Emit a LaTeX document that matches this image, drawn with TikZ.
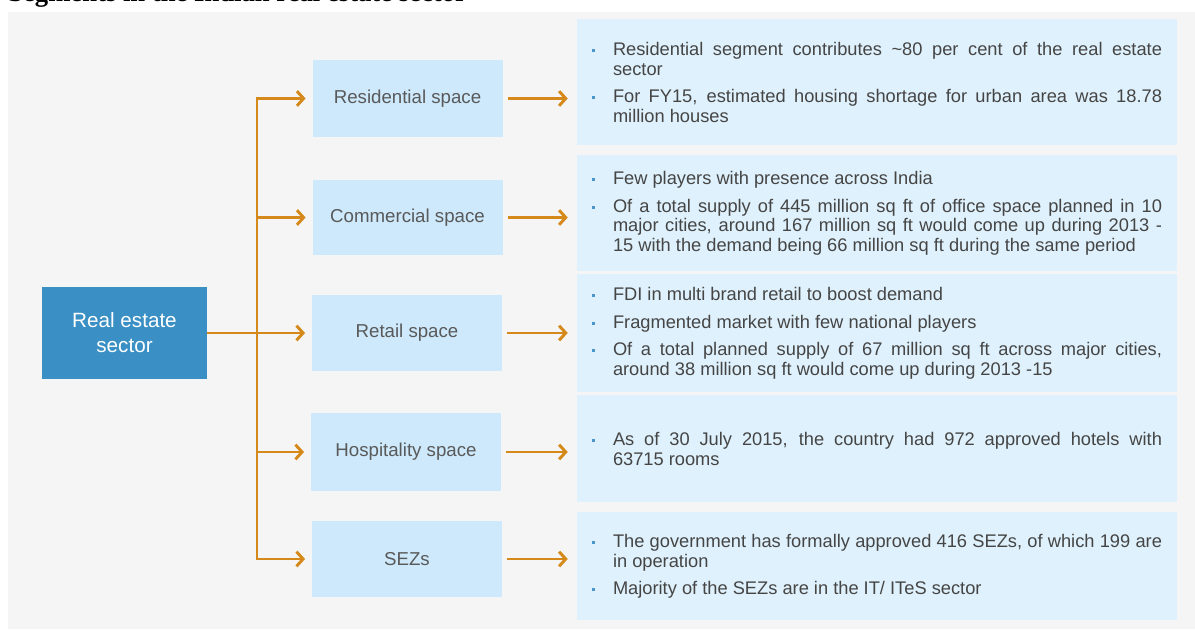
\documentclass[tikz,border=0pt]{standalone}
\usepackage{fontspec}
\setmainfont{Liberation Sans}
\newfontfamily\titlefont{Liberation Serif}
% body text of the detail boxes: spaces may stretch but never shrink
\newfontfamily\infofont[WordSpace={1,2,0}]{Liberation Sans}
\usetikzlibrary{arrows.meta}

\definecolor{panelgray}{HTML}{F5F5F5}
\definecolor{sectorblue}{HTML}{3A8FC4}
\definecolor{segblue}{HTML}{CDE9FB}
\definecolor{infoblue}{HTML}{DFF1FC}
\definecolor{flow}{HTML}{D4891A}
\definecolor{segtext}{HTML}{595959}
\definecolor{infotext}{HTML}{454545}
\definecolor{dotblue}{HTML}{4A96CC}

% paragraph settings for the detail boxes
\newcommand{\infosetup}{\parskip=6pt\hyphenpenalty=10000\exhyphenpenalty=0\tolerance=10000\emergencystretch=0pt}
% closing space that lifts the text block a little inside its box
\newcommand{\infoend}{\par\vskip 10pt\hrule height 0pt\relax}
% one bullet point with a hanging indent
\newcommand{\pointitem}[1]{\par\noindent\hangindent=15.75pt\hangafter=1%
  \makebox[15.75pt][l]{\raisebox{2.8pt}{\textcolor{dotblue}{\rule{2.2pt}{2.2pt}}}}#1\par}
% interword glue that may shrink a little
\newcommand{\tightspaces}{\spaceskip=\fontdimen2\font plus \fontdimen3\font minus 0.08em\relax}

\begin{document}
\begin{tikzpicture}[x=0.75pt,y=-0.75pt,
  sectorbox/.style={fill=sectorblue, text=white, align=center, inner sep=0pt,
    font=\fontsize{15.5}{18.75}\selectfont, minimum width=123.75pt, minimum height=69pt},
  segbox/.style={fill=segblue, text=segtext, inner sep=0pt,
    font=\fontsize{14}{16}\selectfont, minimum width=142.5pt},
  infobox/.style={fill=infoblue, text=infotext, text width=427.5pt,
    inner xsep=11.25pt, inner ysep=0pt, align=justify,
    font=\infofont\fontsize{13.7}{14.6}\selectfont,
    execute at begin node=\infosetup,
    execute at end node=\infoend},
  flowline/.style={draw=flow, line width=2.2pt},
  flowarrow/.style={flowline, -{Straight Barb[length=5pt,width=11pt]}}]

\useasboundingbox (0,0) rectangle (1195,630);
\fill[white] (0,0) rectangle (1195,630);

% heading, cut by the top edge
\node[anchor=base west, inner sep=0pt, font=\titlefont\bfseries\fontsize{20}{24}\selectfont]
  (title) at (8,2) {Segments in the Indian real estate sector};

% background panel
\fill[panelgray] (8,12) rectangle (1195,629);

% sector box
\node[sectorbox] (sector) at (124.5,333) {Real estate\\sector};

% segment boxes
\node[segbox, minimum height=57.75pt] (res)  at (407.5,98.5) {Residential space};
\node[segbox, minimum height=56.25pt] (com)  at (407.5,217.5) {Commercial space};
\node[segbox, minimum height=57pt]    (ret)  at (407,333) {Retail space};
\node[segbox, minimum height=58.5pt]  (hosp) at (406,452) {Hospitality space};
\node[segbox, minimum height=57pt]    (sez)  at (407,559) {SEZs};

% detail boxes
\node[infobox, minimum height=94.5pt] (r1) at (877,82) {%
  \pointitem{Residential segment contributes \textasciitilde80 per cent of the real estate sector}%
  \pointitem{For FY15, estimated housing shortage for urban area was 18.78 million houses}};
\node[infobox, minimum height=87pt] (r2) at (877,213) {%
  \pointitem{Few players with presence across India}%
  \pointitem{\tightspaces Of a total supply of 445 million sq ft of office space planned in 10 major cities, around 167 million sq ft would come up during 2013 -\linebreak 15 with the demand being 66 million sq ft during the same period}};
\node[infobox, minimum height=81pt] (r3) at (877,333) {%
  \pointitem{FDI in multi brand retail to boost demand}%
  \pointitem{Fragmented market with few national players}%
  \pointitem{Of a total planned supply of 67 million sq ft across major cities, around 38 million sq ft would come up during 2013 -15}};
\node[infobox, minimum height=80.25pt] (r4) at (877,448.5) {%
  \pointitem{As of 30 July 2015, the country had 972 approved hotels with 63715 rooms}};
\node[infobox, minimum height=81pt] (r5) at (877,566) {%
  \pointitem{The government has formally approved 416 SEZs, of which 199 are in operation}%
  \pointitem{Majority of the SEZs are in the IT/ ITeS sector}};

% connectors
\coordinate (spine) at (257,333);
\draw[flowline, line cap=rect] (spine |- res.west) -- (spine |- sez.west);
\draw[flowarrow, shorten >=5pt] (sector.east) -- (ret.west);
\foreach \s in {res,com,hosp,sez}
  \draw[flowarrow, shorten >=5pt] (spine |- \s.west) -- (\s.west);

\draw[flowarrow, shorten <=3.75pt, shorten >=6.75pt] (res.east)  -- (res.east -| r1.west);
\draw[flowarrow, shorten <=3.75pt, shorten >=6.75pt] (com.east)  -- (com.east -| r2.west);
\draw[flowarrow, shorten <=3.75pt, shorten >=6.75pt] (ret.east)  -- (ret.east -| r3.west);
\draw[flowarrow, shorten <=3.75pt, shorten >=6.75pt] (hosp.east) -- (hosp.east -| r4.west);
\draw[flowarrow, shorten <=3.75pt, shorten >=6.75pt] (sez.east)  -- (sez.east -| r5.west);
\end{tikzpicture}
\end{document}
